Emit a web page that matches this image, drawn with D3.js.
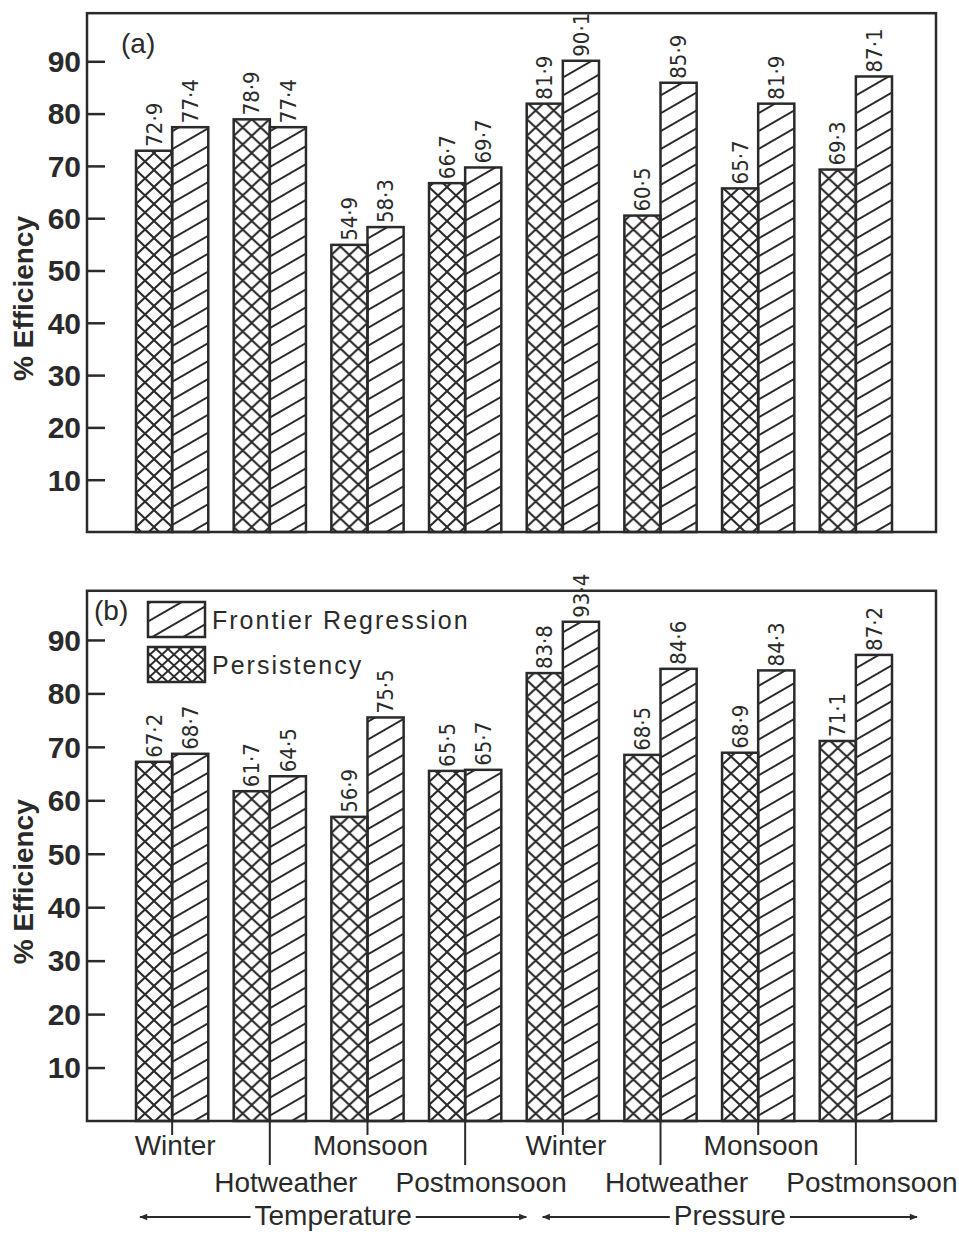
<!DOCTYPE html>
<meta charset="utf-8">
<style>
    body { margin: 0; background: #fff; }
    text { fill: #2a2a2a; font-family: "Liberation Sans", Arial, sans-serif; }
    .tick-label { font-size: 30px; font-weight: bold; }
    .ytitle { font-size: 28px; font-weight: bold; }
    .val { font-family: "Liberation Sans Narrow", "DejaVu Sans Condensed", sans-serif; font-size: 22px; }
    .cat { font-size: 28px; }
    .legend { font-size: 25px; letter-spacing: 2px; }
    .ink { stroke: #2a2a2a; fill: none; }
</style>
<script src="https://cdn.jsdelivr.net/npm/d3@7"></script>
<body>
<script>
    var categories = ["Winter", "Hotweather", "Monsoon", "Postmonsoon",
                      "Winter", "Hotweather", "Monsoon", "Postmonsoon"];
    var yTicks = [10, 20, 30, 40, 50, 60, 70, 80, 90];

    // panel (a)
    var persistA = [72.9, 78.9, 54.9, 66.7, 81.9, 60.5, 65.7, 69.3];
    var frontierA = [77.4, 77.4, 58.3, 69.7, 90.1, 85.9, 81.9, 87.1];
    // panel (b)
    var persistB = [67.2, 61.7, 56.9, 65.5, 83.8, 68.5, 68.9, 71.1];
    var frontierB = [68.7, 64.5, 75.5, 65.7, 93.4, 84.6, 84.3, 87.2];

    var groups = [
        {name: "Temperature", from: 0, to: 3},
        {name: "Pressure", from: 4, to: 7}
    ];

    var width = 959, height = 1234;
    var frameLeft = 87, frameRight = 936;

    var svg = d3.select("body").append("svg")
        .attr("width", width)
        .attr("height", height);

    var defs = svg.append("defs");

    function diagPattern(id, gap) {
        var p = defs.append("pattern")
            .attr("id", id)
            .attr("patternUnits", "userSpaceOnUse")
            .attr("width", 40).attr("height", gap)
            .attr("patternTransform", "rotate(-30)");
        p.append("line")
            .attr("x1", 0).attr("x2", 40)
            .attr("y1", gap / 2).attr("y2", gap / 2)
            .attr("stroke", "#2a2a2a").attr("stroke-width", 2);
    }
    function crossPattern(id, w, h) {
        var p = defs.append("pattern")
            .attr("id", id)
            .attr("patternUnits", "userSpaceOnUse")
            .attr("width", w).attr("height", h);
        p.append("path")
            .attr("d", "M" + (-w / 4) + "," + (-h / 4) + "L" + (w * 1.25) + "," + (h * 1.25) +
                       "M" + (-w / 4) + "," + (h * 1.25) + "L" + (w * 1.25) + "," + (-h / 4))
            .attr("stroke", "#2a2a2a").attr("stroke-width", 2).attr("fill", "none");
    }
    diagPattern("diag", 15.5);
    crossPattern("cross", 18, 17);
    crossPattern("crossSmall", 12, 11);

    var x = d3.scaleBand()
        .domain(d3.range(categories.length))
        .range([136, 892])
        .paddingInner(0.26);
    var xs = d3.scaleBand()
        .domain(["p", "f"])
        .range([0, x.bandwidth()]);

    function drawPanel(label, persist, frontier, y0, y100, labelPos) {
        var y = d3.scaleLinear().domain([0, 100]).range([y0, y100]);
        var g = svg.append("g");

        var data = categories.map(function(c, i) {
            return [{k: "p", v: persist[i], i: i}, {k: "f", v: frontier[i], i: i}];
        });

        var grp = g.selectAll("g.grp")
            .data(data)
            .enter().append("g")
            .attr("class", "grp")
            .attr("transform", function(d, i) { return "translate(" + x(i) + ",0)"; });

        grp.selectAll("rect")
            .data(function(d) { return d; })
            .enter().append("rect")
            .attr("x", function(d) { return xs(d.k); })
            .attr("width", xs.bandwidth())
            .attr("y", function(d) { return y(d.v); })
            .attr("height", function(d) { return y(0) - y(d.v); })
            .attr("fill", function(d) { return d.k === "p" ? "url(#cross)" : "url(#diag)"; })
            .attr("stroke", "#2a2a2a")
            .attr("stroke-width", 2.5);

        grp.selectAll("text.val")
            .data(function(d) { return d; })
            .enter().append("text")
            .attr("class", "val")
            .attr("transform", function(d) {
                return "translate(" + (xs(d.k) + xs.bandwidth() / 2) + "," + (y(d.v) - 4) + ") rotate(-90)";
            })
            .attr("dy", "0.35em")
            .text(function(d) { return d3.format(".1f")(d.v).replace(".", "·"); });

        // frame
        g.append("rect")
            .attr("class", "ink")
            .attr("x", frameLeft).attr("y", y(99.2))
            .attr("width", frameRight - frameLeft).attr("height", y(0) - y(99.2))
            .attr("stroke-width", 2.5);

        // y axis ticks drawn inward
        var axis = d3.axisRight(y).tickValues(yTicks).tickSize(18).tickFormat("");
        var ax = g.append("g").attr("transform", "translate(" + frameLeft + ",0)").call(axis);
        ax.select(".domain").remove();
        ax.selectAll("line").attr("stroke", "#2a2a2a").attr("stroke-width", 2.5);

        g.selectAll("text.tick-label")
            .data(yTicks)
            .enter().append("text")
            .attr("class", "tick-label")
            .attr("x", frameLeft - 6)
            .attr("y", function(d) { return y(d); })
            .attr("dy", "0.36em")
            .attr("text-anchor", "end")
            .text(function(d) { return d; });

        var mid = (y(0) + y(100)) / 2 + 28;
        g.append("text")
            .attr("class", "ytitle")
            .attr("transform", "translate(33," + mid + ") rotate(-90)")
            .attr("text-anchor", "middle")
            .text("% Efficiency");

        g.append("text")
            .attr("class", "cat")
            .attr("x", labelPos[0]).attr("y", labelPos[1])
            .text(label);

        return y;
    }

    drawPanel("(a)", persistA, frontierA, 532, 9, [121, 53]);
    var yb = drawPanel("(b)", persistB, frontierB, 1121, 586.5, [94, 620]);

    // legend in panel (b)
    var legend = [
        {name: "Frontier Regression", fill: "url(#diag)", y: 602},
        {name: "Persistency", fill: "url(#crossSmall)", y: 647}
    ];
    var lg = svg.append("g");
    lg.selectAll("rect")
        .data(legend)
        .enter().append("rect")
        .attr("x", 148).attr("y", function(d) { return d.y; })
        .attr("width", 57).attr("height", 35)
        .attr("fill", function(d) { return d.fill; })
        .attr("stroke", "#2a2a2a").attr("stroke-width", 2.5);
    lg.selectAll("text")
        .data(legend)
        .enter().append("text")
        .attr("class", "legend")
        .attr("x", 212).attr("y", function(d) { return d.y + 27; })
        .text(function(d) { return d.name; });

    // category ticks and labels under panel (b)
    var base = yb(0);
    var cx = function(i) { return x(i) + x.bandwidth() / 2; };
    svg.selectAll("line.cattick")
        .data(categories)
        .enter().append("line")
        .attr("class", "ink")
        .attr("x1", function(d, i) { return cx(i); })
        .attr("x2", function(d, i) { return cx(i); })
        .attr("y1", base)
        .attr("y2", function(d, i) { return i % 2 === 0 ? base + 14 : base + 44; })
        .attr("stroke-width", 2);
    svg.selectAll("text.catlab")
        .data(categories)
        .enter().append("text")
        .attr("class", "cat")
        .attr("text-anchor", "middle")
        .attr("x", function(d, i) { return cx(i) + (i % 2 === 0 ? 3 : 16); })
        .attr("y", function(d, i) { return i % 2 === 0 ? base + 34 : base + 71; })
        .text(function(d) { return d; });

    // group arrows
    defs.append("marker")
        .attr("id", "arrow")
        .attr("viewBox", "0 0 10 10")
        .attr("refX", 9).attr("refY", 5)
        .attr("markerWidth", 12).attr("markerHeight", 8)
        .attr("markerUnits", "userSpaceOnUse")
        .attr("orient", "auto-start-reverse")
        .append("path").attr("d", "M0,1L10,5L0,9Z").attr("fill", "#2a2a2a");

    var arrowY = base + 96;
    groups.forEach(function(gr) {
        var left = x(gr.from) + 4, right = x(gr.to) + x.bandwidth() + 25;
        if (gr.from > 0) { left = x(gr.from) + 16; }
        var mid = (left + right) / 2;
        var t = svg.append("text")
            .attr("class", "cat")
            .attr("x", mid).attr("y", arrowY + 8)
            .attr("text-anchor", "middle")
            .text(gr.name);
        var bb = t.node().getBBox();
        svg.append("line").attr("class", "ink").attr("stroke-width", 2)
            .attr("x1", bb.x - 4).attr("x2", left).attr("y1", arrowY).attr("y2", arrowY)
            .attr("marker-end", "url(#arrow)");
        svg.append("line").attr("class", "ink").attr("stroke-width", 2)
            .attr("x1", bb.x + bb.width + 4).attr("x2", right).attr("y1", arrowY).attr("y2", arrowY)
            .attr("marker-end", "url(#arrow)");
    });
</script>
